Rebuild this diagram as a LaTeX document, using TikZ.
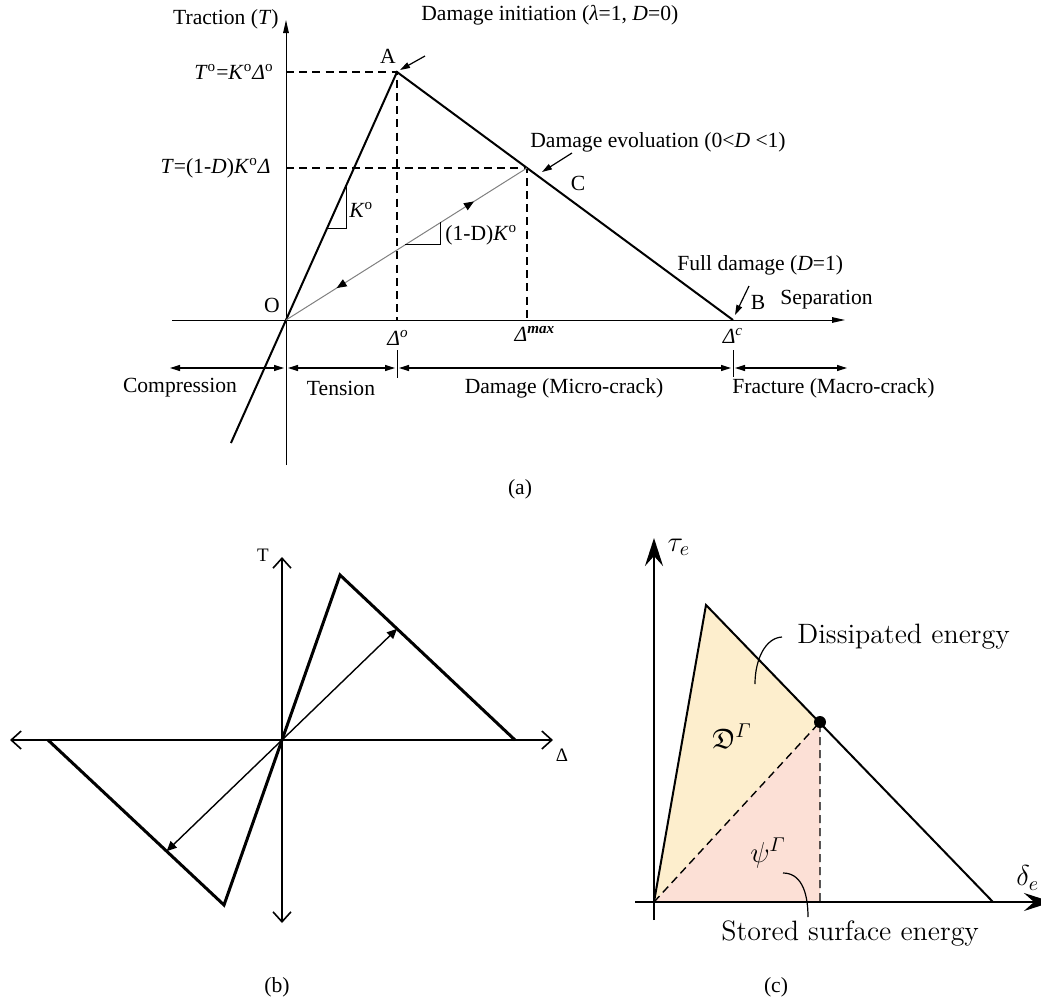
\documentclass[tikz,border=0pt]{standalone}
\usepackage{amsmath,amssymb}
\usepackage{fontspec}
\setmainfont{Liberation Serif}
\newfontfamily\lmfont{Latin Modern Roman}
\usetikzlibrary{arrows.meta,positioning,calc,decorations.markings}
\definecolor{dissfill}{RGB}{253,238,205}
\definecolor{storfill}{RGB}{252,224,214}

\begin{document}
\begin{tikzpicture}[
  x=0.5pt, y=-0.5pt,
  lbl/.style={inner sep=0pt, font=\fontsize{10.8}{12}\selectfont},
  lblc/.style={inner sep=0pt, font=\lmfont\fontsize{14}{16}\selectfont},
  tipA/.tip={Triangle[length=6.5pt,width=2.8pt]},
  tipS/.tip={Triangle[length=5pt,width=3pt]},
  axisa/.style={line width=0.5pt, -tipA},
  lawa/.style={line width=1pt},
  dsh/.style={line width=0.75pt, dash pattern=on 4pt off 2.6pt},
  dimarr/.style={line width=0.6pt, tipS-tipS},
  lead/.style={line width=0.6pt, -tipS},
  axisb/.style={line width=0.8pt, {Straight Barb[length=5pt,width=9pt]}-{Straight Barb[length=5pt,width=9pt]}},
  lawb/.style={line width=1.5pt, line join=miter},
  relb/.style={line width=0.7pt, -{Triangle[length=5pt,width=4.5pt]}},
  axisc/.style={line width=1.3pt, -{Stealth[length=14pt,width=9pt,inset=5pt]}},
  lawc/.style={line width=1pt},
  dshc/.style={line width=0.7pt, dash pattern=on 4pt off 2.5pt}
]
\useasboundingbox (0,0) rectangle (1041,1002);

% ---------- (a) traction-separation law
\coordinate (O) at (286,320);
\coordinate (A) at (397,72);
\coordinate (B) at (733,320);
\coordinate (M) at (527,168);
\coordinate (Q) at ($(O)!-0.496!(A)$);

\draw[axisa] (286,465) -- (286,20);
\draw[axisa] (172,320) -- (845,320);

\draw[dsh] (286,72) -- (A) -- (397,320);
\draw[dsh] (286,168) -- (M) -- (527,320);
\draw[lawa] (Q) -- (A) -- (B);
\draw[gray, line width=0.5pt,
  decoration={markings,
    mark=at position 0.78 with {\arrow[black]{Triangle[length=5pt,width=4pt]}},
    mark=at position 0.21 with {\arrowreversed[black]{Triangle[length=5pt,width=4pt]}}},
  postaction=decorate] (O) -- (M);

% slope triangles
\draw[line width=0.5pt] ($(O)!0.367!(A)$) -| ($(O)!0.5495!(A)$);
\draw[line width=0.5pt] ($(O)!0.494!(M)$) -| ($(O)!0.643!(M)$);

\node[lbl, anchor=east] (trac) at (279,19) {Traction (\textit{T})};
\node[lbl, anchor=east] (tini) at (274,72) {\textit{T}\textsuperscript{o}=\textit{K}\textsuperscript{o}\textit{Δ}\textsuperscript{o}};
\node[lbl, anchor=east] (tcur) at (271,168) {\textit{T}=(1-\textit{D})\textit{K}\textsuperscript{o}\textit{Δ}};
\node[lbl] (lA) at (388,56) {A};
\node[lbl] (lO) at (272,305) {O};
\node[lbl] (lC) at (578,183) {C};
\node[lbl] (lB) at (758,302) {B};
\node[lbl, anchor=west] (sep) at (780,300) {Separation};
\node[lbl, anchor=west] (kel) at (349,210) {\textit{K}\textsuperscript{o}};
\node[lbl, anchor=west] (kdam) at (445,235) {(1-D)\textit{K}\textsuperscript{o}};

\node[lbl, anchor=west] (dini) at (421,15) {Damage initiation (\textit{λ}=1, \textit{D}=0)};
\node[lbl, anchor=west] (devo) at (530,142) {Damage evoluation (0<\textit{D} <1)};
\node[lbl, anchor=west] (dful) at (677,265) {Full damage (\textit{D}=1)};
\coordinate (dini-t) at (425,56);
\coordinate (devo-t) at (572,153);
\coordinate (dful-t) at (749,286);
\draw[lead] (dini-t) -- (400,70);
\draw[lead] (devo-t) -- (542,172);
\draw[lead] (dful-t) -- (735,315);

\node[lbl] (d0) at (398,338) {\textit{Δ}\textsuperscript{\textit{o}}};
\node[lbl] (dmax) at (535,334) {\textit{Δ}\textsuperscript{\textbf{\textit{max}}}};
\node[lbl] (dc) at (733,336) {\textit{Δ}\textsuperscript{\textit{c}}};

% regions
\draw[line width=0.5pt] (397,350) -- (397,378);
\draw[line width=0.5pt] (733,350) -- (733,377);
\draw[dimarr] (170,368) -- (284,368);
\draw[dimarr] (288,368) -- (395,368);
\draw[dimarr] (399,368) -- (731,368);
\draw[dimarr] (735,368) -- (847,368);
\node[lbl] (comp) at (180,388) {Compression};
\node[lbl] (tens) at (341,388) {Tension};
\node[lbl] (dmg) at (564,388) {Damage (Micro-crack)};
\node[lbl, anchor=west] (frac) at (732,388) {Fracture (Macro-crack)};
\node[lbl] (capa) at (520,489) {(a)};

% ---------- (b) cyclic loading
\coordinate (P) at (282,740);
\coordinate (Pa) at (340,575);
\coordinate (Pb) at (515,740);
\coordinate (Pc) at (224,905);
\coordinate (Pd) at (48,740);

\draw[axisb] (10,740) -- (553,740);
\draw[axisb] (282,923) -- (282,557);
\draw[lawb] (Pd) -- (Pc) -- (Pa) -- (Pb);
\draw[relb] (P) -- ($(Pa)!0.326!(Pb)$);
\draw[relb] (P) -- ($(Pc)!0.326!(Pd)$);
\node[lbl, font=\fontsize{9.5}{11}\selectfont] (lT) at (263,555) {T};
\node[lbl, font=\fontsize{9.5}{11}\selectfont] (lD) at (562,755) {Δ};
\node[lbl] (capb) at (277,987) {(b)};

% ---------- (c) energies
\coordinate (R) at (654,902);
\coordinate (Rp) at (706,605);
\coordinate (Rd) at (820,722);
\coordinate (Rf) at (820,902);
\coordinate (Re) at (993,902);

\fill[dissfill] (R) -- (Rp) -- (Rd) -- cycle;
\fill[storfill] (R) -- (Rd) -- (Rf) -- cycle;
\draw[dshc] (R) -- (Rd) -- (Rf);
\draw[lawc] (R) -- (Rp) -- (Re);
\draw[axisc] (654,920) -- (654,538);
\draw[axisc] (635,902) -- (1052,902);
\fill (Rd) circle[radius=3pt];

\node[lblc] (tau) at (679,547) {$\tau_e$};
\node[lblc, anchor=west] (del) at (1016,878) {$\delta_e$};
\node[lblc] (dgam) at (732,736) {$\mathfrak{D}^{\varGamma}$};
\node[lblc] (pgam) at (768,853) {$\psi^{\varGamma}$};
\node[lblc, anchor=west] (diss) at (797,637) {Dissipated energy};
\node[lblc, anchor=west] (stor) at (721,934) {Stored surface energy};
\coordinate (diss-t) at (782,637);
\coordinate (stor-t) at (783,873);
\draw[line width=0.6pt] (diss-t) .. controls (765,638) and (755,660) .. (755,684);
\draw[line width=0.6pt] (stor-t) .. controls (800,873) and (808,890) .. (808,917);
\node[lbl] (capc) at (776,987) {(c)};
\end{tikzpicture}
\end{document}
